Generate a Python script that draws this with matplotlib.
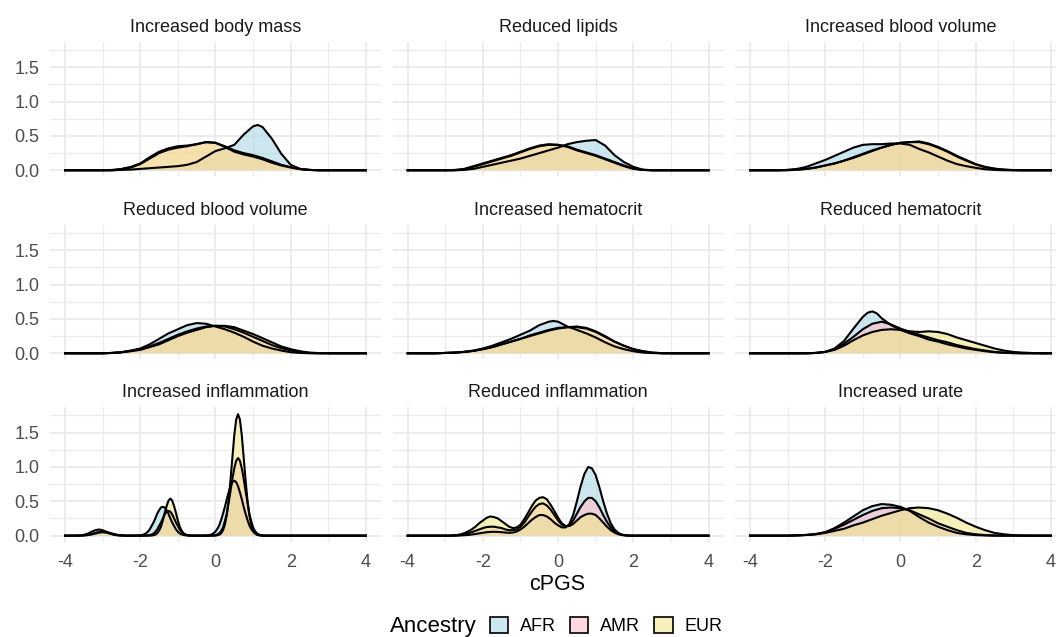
import matplotlib
matplotlib.use("Agg")
import matplotlib.pyplot as plt
from matplotlib.colors import to_rgba
from matplotlib.patches import Patch

plt.rcParams['font.family'] = ['Liberation Sans', 'DejaVu Sans']
plt.rcParams['axes.unicode_minus'] = False

# ---- data: density curves, as (cPGS, density) pairs ----
ancestries = ['AFR', 'AMR', 'EUR']
fill_colors = ['#ADD8E6', '#FFC0CB', '#F0E68C']
fill_alpha = 0.6

body_mass_afr = [(-4, 0), (-2.75, 0), (-2.5, 0.005), (-2.25, 0.01), (-2.0, 0.02), (-1.75, 0.03), (-1.5, 0.04),
                 (-1.25, 0.05), (-1.0, 0.06), (-0.75, 0.08), (-0.5, 0.12), (-0.25, 0.2), (0, 0.28), (0.25, 0.32),
                 (0.5, 0.37), (0.75, 0.52), (1.0, 0.64), (1.125, 0.66), (1.25, 0.63), (1.5, 0.46), (1.75, 0.24),
                 (2.0, 0.08), (2.25, 0.02), (2.5, 0.005), (2.75, 0), (4, 0)]
body_mass_amr = [(-4, 0), (-2.75, 0), (-2.5, 0.015), (-2.25, 0.04), (-2.0, 0.09), (-1.75, 0.17), (-1.5, 0.25),
                 (-1.25, 0.3), (-1.0, 0.33), (-0.75, 0.35), (-0.5, 0.38), (-0.25, 0.41), (0, 0.4), (0.25, 0.35),
                 (0.5, 0.29), (0.75, 0.25), (1.0, 0.22), (1.25, 0.18), (1.5, 0.13), (1.75, 0.08), (2.0, 0.045),
                 (2.25, 0.02), (2.5, 0.005), (2.75, 0), (4, 0)]
body_mass_eur = [(-4, 0), (-3.0, 0), (-2.75, 0.005), (-2.5, 0.02), (-2.25, 0.05), (-2.0, 0.1), (-1.75, 0.19),
                 (-1.5, 0.27), (-1.25, 0.32), (-1.0, 0.35), (-0.75, 0.36), (-0.5, 0.38), (-0.25, 0.41), (0, 0.4),
                 (0.25, 0.34), (0.5, 0.27), (0.75, 0.23), (1.0, 0.2), (1.25, 0.16), (1.5, 0.11), (1.75, 0.07),
                 (2.0, 0.04), (2.25, 0.015), (2.5, 0.005), (2.75, 0), (4, 0)]

lipids_afr = [(-4, 0), (-2.75, 0), (-2.5, 0.005), (-2.25, 0.02), (-2.0, 0.05), (-1.75, 0.08), (-1.5, 0.11),
              (-1.25, 0.14), (-1.0, 0.17), (-0.75, 0.21), (-0.5, 0.25), (-0.25, 0.29), (0, 0.33), (0.25, 0.38),
              (0.5, 0.41), (0.75, 0.43), (1.0, 0.44), (1.25, 0.36), (1.5, 0.22), (1.75, 0.12), (2.0, 0.05),
              (2.25, 0.01), (2.5, 0), (4, 0)]
lipids_amr = [(-4, 0), (-2.75, 0), (-2.5, 0.015), (-2.25, 0.05), (-2.0, 0.09), (-1.75, 0.13), (-1.5, 0.17),
              (-1.25, 0.21), (-1.0, 0.26), (-0.75, 0.31), (-0.5, 0.35), (-0.25, 0.37), (0, 0.37), (0.25, 0.35),
              (0.5, 0.3), (0.75, 0.26), (1.0, 0.22), (1.25, 0.17), (1.5, 0.12), (1.75, 0.07), (2.0, 0.025),
              (2.25, 0.005), (2.5, 0), (4, 0)]
lipids_eur = [(-4, 0), (-3.0, 0), (-2.75, 0.005), (-2.5, 0.02), (-2.25, 0.06), (-2.0, 0.1), (-1.75, 0.14),
              (-1.5, 0.18), (-1.25, 0.22), (-1.0, 0.27), (-0.75, 0.32), (-0.5, 0.36), (-0.25, 0.38), (0, 0.37),
              (0.25, 0.34), (0.5, 0.29), (0.75, 0.25), (1.0, 0.21), (1.25, 0.16), (1.5, 0.11), (1.75, 0.06),
              (2.0, 0.02), (2.25, 0.005), (2.5, 0), (4, 0)]

inc_blood_afr = [(-4, 0), (-3.25, 0), (-3.0, 0.005), (-2.75, 0.02), (-2.5, 0.05), (-2.25, 0.1), (-2.0, 0.15),
                 (-1.75, 0.21), (-1.5, 0.27), (-1.25, 0.33), (-1.0, 0.37), (-0.75, 0.38), (-0.5, 0.38),
                 (-0.25, 0.39), (0, 0.39), (0.25, 0.37), (0.5, 0.31), (0.75, 0.26), (1.0, 0.2), (1.25, 0.14),
                 (1.5, 0.09), (1.75, 0.06), (2.0, 0.035), (2.25, 0.015), (2.5, 0.005), (2.75, 0), (4, 0)]
inc_blood_amr = [(-4, 0), (-3.0, 0), (-2.75, 0.008), (-2.5, 0.02), (-2.25, 0.04), (-2.0, 0.07), (-1.75, 0.1),
                 (-1.5, 0.14), (-1.25, 0.19), (-1.0, 0.24), (-0.75, 0.29), (-0.5, 0.33), (-0.25, 0.37), (0, 0.4),
                 (0.25, 0.41), (0.5, 0.41), (0.75, 0.38), (1.0, 0.33), (1.25, 0.27), (1.5, 0.2), (1.75, 0.14),
                 (2.0, 0.085), (2.25, 0.045), (2.5, 0.02), (2.75, 0.008), (3.0, 0.002), (3.25, 0), (4, 0)]
inc_blood_eur = [(-4, 0), (-3.25, 0), (-3.0, 0.005), (-2.75, 0.01), (-2.5, 0.02), (-2.25, 0.04), (-2.0, 0.07),
                 (-1.75, 0.1), (-1.5, 0.14), (-1.25, 0.18), (-1.0, 0.23), (-0.75, 0.28), (-0.5, 0.33),
                 (-0.25, 0.37), (0, 0.4), (0.25, 0.41), (0.5, 0.42), (0.75, 0.39), (1.0, 0.34), (1.25, 0.28),
                 (1.5, 0.21), (1.75, 0.15), (2.0, 0.09), (2.25, 0.05), (2.5, 0.025), (2.75, 0.01), (3.0, 0.003),
                 (3.25, 0), (4, 0)]

red_blood_afr = [(-4, 0), (-3.0, 0), (-2.75, 0.005), (-2.5, 0.015), (-2.25, 0.04), (-2.0, 0.07), (-1.75, 0.13),
                 (-1.5, 0.21), (-1.25, 0.29), (-1.0, 0.35), (-0.75, 0.41), (-0.5, 0.44), (-0.25, 0.43), (0, 0.39),
                 (0.25, 0.35), (0.5, 0.3), (0.75, 0.24), (1.0, 0.17), (1.25, 0.11), (1.5, 0.07), (1.75, 0.04),
                 (2.0, 0.015), (2.25, 0.005), (2.5, 0), (4, 0)]
red_blood_amr = [(-4, 0), (-3.0, 0), (-2.75, 0.005), (-2.5, 0.015), (-2.25, 0.035), (-2.0, 0.06), (-1.75, 0.1),
                 (-1.5, 0.15), (-1.25, 0.21), (-1.0, 0.27), (-0.75, 0.32), (-0.5, 0.36), (-0.25, 0.39), (0, 0.4),
                 (0.25, 0.39), (0.5, 0.35), (0.75, 0.3), (1.0, 0.24), (1.25, 0.18), (1.5, 0.12), (1.75, 0.075),
                 (2.0, 0.04), (2.25, 0.015), (2.5, 0.005), (2.75, 0), (4, 0)]
red_blood_eur = [(-4, 0), (-3.0, 0), (-2.75, 0.005), (-2.5, 0.015), (-2.25, 0.03), (-2.0, 0.05), (-1.75, 0.09),
                 (-1.5, 0.13), (-1.25, 0.19), (-1.0, 0.25), (-0.75, 0.3), (-0.5, 0.34), (-0.25, 0.38), (0, 0.4),
                 (0.25, 0.4), (0.5, 0.38), (0.75, 0.33), (1.0, 0.28), (1.25, 0.22), (1.5, 0.16), (1.75, 0.1),
                 (2.0, 0.06), (2.25, 0.03), (2.5, 0.01), (2.75, 0.003), (3.0, 0), (4, 0)]

inc_hct_afr = [(-4, 0), (-3.25, 0), (-3.0, 0.005), (-2.75, 0.01), (-2.5, 0.02), (-2.25, 0.04), (-2.0, 0.07),
               (-1.75, 0.11), (-1.5, 0.16), (-1.25, 0.21), (-1.0, 0.27), (-0.75, 0.33), (-0.5, 0.41),
               (-0.25, 0.46), (-0.125, 0.47), (0, 0.46), (0.25, 0.39), (0.5, 0.34), (0.75, 0.29), (1.0, 0.23),
               (1.25, 0.16), (1.5, 0.1), (1.75, 0.06), (2.0, 0.03), (2.25, 0.01), (2.5, 0.003), (2.75, 0), (4, 0)]
inc_hct_amr = [(-4, 0), (-3.25, 0), (-3.0, 0.005), (-2.75, 0.01), (-2.5, 0.02), (-2.25, 0.035), (-2.0, 0.06),
               (-1.75, 0.09), (-1.5, 0.13), (-1.25, 0.17), (-1.0, 0.21), (-0.75, 0.26), (-0.5, 0.3),
               (-0.25, 0.34), (0, 0.37), (0.25, 0.38), (0.5, 0.38), (0.75, 0.36), (1.0, 0.31), (1.25, 0.24),
               (1.5, 0.17), (1.75, 0.11), (2.0, 0.06), (2.25, 0.03), (2.5, 0.01), (2.75, 0), (4, 0)]
inc_hct_eur = [(-4, 0), (-3.25, 0), (-3.0, 0.005), (-2.75, 0.01), (-2.5, 0.02), (-2.25, 0.035), (-2.0, 0.06),
               (-1.75, 0.09), (-1.5, 0.13), (-1.25, 0.17), (-1.0, 0.21), (-0.75, 0.25), (-0.5, 0.29),
               (-0.25, 0.33), (0, 0.36), (0.25, 0.38), (0.5, 0.39), (0.75, 0.37), (1.0, 0.32), (1.25, 0.25),
               (1.5, 0.17), (1.75, 0.11), (2.0, 0.06), (2.25, 0.03), (2.5, 0.01), (2.75, 0.003), (3.0, 0), (4, 0)]

red_hct_afr = [(-4, 0), (-2.5, 0), (-2.25, 0.005), (-2.0, 0.02), (-1.75, 0.07), (-1.5, 0.18), (-1.25, 0.36),
               (-1.0, 0.53), (-0.875, 0.59), (-0.75, 0.61), (-0.625, 0.58), (-0.5, 0.51), (-0.25, 0.41),
               (0, 0.34), (0.25, 0.29), (0.5, 0.25), (0.75, 0.2), (1.0, 0.17), (1.25, 0.13), (1.5, 0.1),
               (1.75, 0.07), (2.0, 0.05), (2.25, 0.03), (2.5, 0.015), (2.75, 0.007), (3.0, 0.002), (3.25, 0), (4, 0)]
red_hct_amr = [(-4, 0), (-2.5, 0), (-2.25, 0.005), (-2.0, 0.02), (-1.75, 0.06), (-1.5, 0.14), (-1.25, 0.24),
               (-1.0, 0.35), (-0.75, 0.43), (-0.5, 0.46), (-0.25, 0.42), (0, 0.36), (0.25, 0.31), (0.5, 0.27),
               (0.75, 0.23), (1.0, 0.19), (1.25, 0.16), (1.5, 0.12), (1.75, 0.09), (2.0, 0.06), (2.25, 0.04),
               (2.5, 0.02), (2.75, 0.01), (3.0, 0.004), (3.25, 0), (4, 0)]
red_hct_eur = [(-4, 0), (-2.5, 0), (-2.25, 0.005), (-2.0, 0.02), (-1.75, 0.05), (-1.5, 0.11), (-1.25, 0.19),
               (-1.0, 0.26), (-0.75, 0.31), (-0.5, 0.34), (-0.25, 0.35), (0, 0.34), (0.25, 0.32), (0.5, 0.31),
               (0.75, 0.32), (1.0, 0.31), (1.25, 0.28), (1.5, 0.23), (1.75, 0.19), (2.0, 0.15), (2.25, 0.11),
               (2.5, 0.07), (2.75, 0.04), (3.0, 0.02), (3.25, 0.01), (3.5, 0.004), (3.75, 0), (4, 0)]

inc_infl_afr = [(-4, 0), (-3.8, 0), (-3.7, 0.001), (-3.6, 0.004), (-3.5, 0.012), (-3.4, 0.029), (-3.3, 0.055),
                (-3.2, 0.079), (-3.1, 0.09), (-3.0, 0.079), (-2.9, 0.055), (-2.8, 0.029), (-2.7, 0.012),
                (-2.6, 0.004), (-2.5, 0.001), (-2.4, 0), (-2.1, 0.001), (-2.0, 0.005), (-1.95, 0.01),
                (-1.9, 0.018), (-1.85, 0.033), (-1.8, 0.057), (-1.75, 0.09), (-1.7, 0.14), (-1.65, 0.19),
                (-1.6, 0.25), (-1.55, 0.32), (-1.5, 0.37), (-1.45, 0.41), (-1.4, 0.42), (-1.35, 0.41),
                (-1.3, 0.37), (-1.25, 0.32), (-1.2, 0.25), (-1.15, 0.19), (-1.1, 0.14), (-1.05, 0.09),
                (-1.0, 0.057), (-0.95, 0.033), (-0.9, 0.018), (-0.85, 0.01), (-0.8, 0.005), (-0.75, 0.002),
                (-0.7, 0.001), (-0.4, 0), (-0.3, 0.001), (-0.25, 0.002), (-0.2, 0.005), (-0.15, 0.01),
                (-0.1, 0.019), (-0.05, 0.035), (0.0, 0.06), (0.05, 0.099), (0.1, 0.15), (0.15, 0.23), (0.2, 0.32),
                (0.25, 0.42), (0.3, 0.53), (0.35, 0.63), (0.4, 0.72), (0.45, 0.78), (0.5, 0.8), (0.55, 0.78),
                (0.6, 0.72), (0.65, 0.63), (0.7, 0.53), (0.75, 0.42), (0.8, 0.32), (0.85, 0.23), (0.9, 0.15),
                (0.95, 0.099), (1.0, 0.06), (1.05, 0.035), (1.1, 0.019), (1.15, 0.01), (1.2, 0.005),
                (1.25, 0.002), (1.3, 0.001), (1.4, 0), (4, 0)]
inc_infl_amr = [(-4, 0), (-3.7, 0), (-3.6, 0.002), (-3.5, 0.005), (-3.4, 0.012), (-3.3, 0.024), (-3.2, 0.04),
                (-3.1, 0.054), (-3.0, 0.06), (-2.9, 0.054), (-2.8, 0.04), (-2.7, 0.024), (-2.6, 0.012),
                (-2.5, 0.005), (-2.4, 0.002), (-2.3, 0), (-1.9, 0), (-1.85, 0.002), (-1.8, 0.004), (-1.75, 0.008),
                (-1.7, 0.016), (-1.65, 0.03), (-1.6, 0.054), (-1.55, 0.09), (-1.5, 0.14), (-1.45, 0.19),
                (-1.4, 0.25), (-1.35, 0.31), (-1.3, 0.35), (-1.25, 0.36), (-1.2, 0.35), (-1.15, 0.31),
                (-1.1, 0.25), (-1.05, 0.19), (-1.0, 0.14), (-0.95, 0.09), (-0.9, 0.054), (-0.85, 0.03),
                (-0.8, 0.016), (-0.75, 0.008), (-0.7, 0.004), (-0.65, 0.002), (-0.6, 0.001), (-0.2, 0),
                (-0.1, 0.001), (-0.05, 0.003), (0.0, 0.008), (0.05, 0.017), (0.1, 0.035), (0.15, 0.068),
                (0.2, 0.12), (0.25, 0.21), (0.3, 0.32), (0.35, 0.48), (0.4, 0.65), (0.45, 0.83), (0.5, 0.98),
                (0.55, 1.09), (0.6, 1.13), (0.65, 1.09), (0.7, 0.98), (0.75, 0.83), (0.8, 0.65), (0.85, 0.48),
                (0.9, 0.32), (0.95, 0.21), (1.0, 0.12), (1.05, 0.068), (1.1, 0.035), (1.15, 0.017),
                (1.2, 0.008), (1.25, 0.003), (1.3, 0.001), (1.4, 0), (4, 0)]
inc_infl_eur = [(-4, 0), (-3.6, 0), (-3.5, 0.002), (-3.4, 0.007), (-3.3, 0.016), (-3.2, 0.03), (-3.1, 0.044),
                (-3.0, 0.05), (-2.9, 0.044), (-2.8, 0.03), (-2.7, 0.016), (-2.6, 0.007), (-2.5, 0.002),
                (-2.4, 0), (-1.75, 0), (-1.7, 0.002), (-1.65, 0.006), (-1.6, 0.015), (-1.55, 0.035),
                (-1.5, 0.073), (-1.45, 0.13), (-1.4, 0.22), (-1.35, 0.33), (-1.3, 0.43), (-1.25, 0.51),
                (-1.2, 0.54), (-1.15, 0.51), (-1.1, 0.43), (-1.05, 0.33), (-1.0, 0.22), (-0.95, 0.13),
                (-0.9, 0.073), (-0.85, 0.035), (-0.8, 0.015), (-0.75, 0.006), (-0.7, 0.002), (-0.65, 0),
                (-0.05, 0), (0.0, 0.0015), (0.05, 0.005), (0.1, 0.013), (0.15, 0.034), (0.2, 0.078), (0.25, 0.16),
                (0.3, 0.3), (0.35, 0.52), (0.4, 0.81), (0.45, 1.14), (0.5, 1.46), (0.55, 1.69), (0.6, 1.77),
                (0.65, 1.69), (0.7, 1.46), (0.75, 1.14), (0.8, 0.81), (0.85, 0.52), (0.9, 0.3), (0.95, 0.16),
                (1.0, 0.078), (1.05, 0.034), (1.1, 0.013), (1.15, 0.005), (1.2, 0.0015), (1.3, 0), (4, 0)]

red_infl_afr = [(-4, 0), (-2.7, 0), (-2.6, 0.003), (-2.5, 0.006), (-2.4, 0.01), (-2.3, 0.016), (-2.2, 0.024),
                (-2.1, 0.033), (-2.0, 0.042), (-1.9, 0.05), (-1.8, 0.055), (-1.7, 0.056), (-1.6, 0.055),
                (-1.5, 0.05), (-1.4, 0.045), (-1.3, 0.042), (-1.2, 0.045), (-1.1, 0.06), (-1.0, 0.09),
                (-0.9, 0.13), (-0.8, 0.18), (-0.7, 0.23), (-0.6, 0.27), (-0.5, 0.3), (-0.4, 0.3), (-0.3, 0.28),
                (-0.2, 0.24), (-0.1, 0.19), (0.0, 0.15), (0.1, 0.12), (0.2, 0.12), (0.3, 0.17), (0.4, 0.3),
                (0.5, 0.5), (0.6, 0.72), (0.7, 0.9), (0.8, 1.0), (0.9, 0.98), (1.0, 0.88), (1.1, 0.7),
                (1.2, 0.5), (1.3, 0.32), (1.4, 0.18), (1.5, 0.09), (1.6, 0.04), (1.7, 0.015), (1.8, 0.005),
                (1.9, 0.001), (2.0, 0), (4, 0)]
red_infl_amr = [(-4, 0), (-2.9, 0), (-2.8, 0.002), (-2.7, 0.005), (-2.6, 0.01), (-2.5, 0.02), (-2.4, 0.035),
                (-2.3, 0.05), (-2.2, 0.07), (-2.1, 0.09), (-2.0, 0.11), (-1.9, 0.125), (-1.8, 0.13),
                (-1.7, 0.13), (-1.6, 0.12), (-1.5, 0.11), (-1.4, 0.09), (-1.3, 0.08), (-1.2, 0.08), (-1.1, 0.09),
                (-1.0, 0.13), (-0.9, 0.19), (-0.8, 0.27), (-0.7, 0.35), (-0.6, 0.42), (-0.5, 0.46), (-0.4, 0.47),
                (-0.3, 0.44), (-0.2, 0.38), (-0.1, 0.3), (0.0, 0.22), (0.1, 0.16), (0.2, 0.13), (0.3, 0.15),
                (0.4, 0.22), (0.5, 0.32), (0.6, 0.42), (0.7, 0.5), (0.8, 0.55), (0.9, 0.55), (1.0, 0.5),
                (1.1, 0.41), (1.2, 0.3), (1.3, 0.2), (1.4, 0.12), (1.5, 0.065), (1.6, 0.03), (1.7, 0.012),
                (1.8, 0.004), (1.9, 0.001), (2.0, 0), (4, 0)]
red_infl_eur = [(-4, 0), (-2.9, 0), (-2.8, 0.003), (-2.7, 0.008), (-2.6, 0.018), (-2.5, 0.035), (-2.4, 0.06),
                (-2.3, 0.09), (-2.2, 0.13), (-2.1, 0.18), (-2.0, 0.22), (-1.9, 0.26), (-1.8, 0.28), (-1.7, 0.27),
                (-1.6, 0.25), (-1.5, 0.21), (-1.4, 0.17), (-1.3, 0.13), (-1.2, 0.11), (-1.1, 0.12), (-1.0, 0.16),
                (-0.9, 0.24), (-0.8, 0.33), (-0.7, 0.43), (-0.6, 0.51), (-0.5, 0.55), (-0.4, 0.56), (-0.3, 0.53),
                (-0.2, 0.45), (-0.1, 0.36), (0.0, 0.26), (0.1, 0.18), (0.2, 0.14), (0.3, 0.14), (0.4, 0.17),
                (0.5, 0.22), (0.6, 0.27), (0.7, 0.3), (0.8, 0.32), (0.9, 0.32), (1.0, 0.3), (1.1, 0.25),
                (1.2, 0.19), (1.3, 0.13), (1.4, 0.08), (1.5, 0.045), (1.6, 0.02), (1.7, 0.008), (1.8, 0.003),
                (1.9, 0), (4, 0)]

urate_afr = [(-4, 0), (-3.0, 0), (-2.75, 0.004), (-2.5, 0.01), (-2.25, 0.025), (-2.0, 0.05), (-1.75, 0.11),
             (-1.5, 0.19), (-1.25, 0.28), (-1.0, 0.37), (-0.75, 0.43), (-0.5, 0.46), (-0.25, 0.45), (0, 0.42),
             (0.25, 0.36), (0.5, 0.27), (0.75, 0.19), (1.0, 0.13), (1.25, 0.08), (1.5, 0.04), (1.75, 0.02),
             (2.0, 0.008), (2.25, 0.003), (2.5, 0), (4, 0)]
urate_amr = [(-4, 0), (-3.0, 0), (-2.75, 0.004), (-2.5, 0.01), (-2.25, 0.02), (-2.0, 0.05), (-1.75, 0.1),
             (-1.5, 0.16), (-1.25, 0.23), (-1.0, 0.3), (-0.75, 0.36), (-0.5, 0.4), (-0.25, 0.41), (0, 0.4),
             (0.25, 0.37), (0.5, 0.31), (0.75, 0.25), (1.0, 0.18), (1.25, 0.13), (1.5, 0.08), (1.75, 0.04),
             (2.0, 0.02), (2.25, 0.008), (2.5, 0.003), (2.75, 0), (4, 0)]
urate_eur = [(-4, 0), (-3.0, 0), (-2.75, 0.005), (-2.5, 0.01), (-2.25, 0.02), (-2.0, 0.04), (-1.75, 0.07),
             (-1.5, 0.1), (-1.25, 0.15), (-1.0, 0.19), (-0.75, 0.24), (-0.5, 0.29), (-0.25, 0.33), (0, 0.37),
             (0.25, 0.4), (0.5, 0.41), (0.75, 0.4), (1.0, 0.37), (1.25, 0.32), (1.5, 0.26), (1.75, 0.19),
             (2.0, 0.13), (2.25, 0.08), (2.5, 0.04), (2.75, 0.02), (3.0, 0.007), (3.25, 0.002), (3.5, 0), (4, 0)]

panel_titles = ['Increased body mass', 'Reduced lipids', 'Increased blood volume',
                'Reduced blood volume', 'Increased hematocrit', 'Reduced hematocrit',
                'Increased inflammation', 'Reduced inflammation', 'Increased urate']
panel_curves = [
    (body_mass_afr, body_mass_amr, body_mass_eur),
    (lipids_afr, lipids_amr, lipids_eur),
    (inc_blood_afr, inc_blood_amr, inc_blood_eur),
    (red_blood_afr, red_blood_amr, red_blood_eur),
    (inc_hct_afr, inc_hct_amr, inc_hct_eur),
    (red_hct_afr, red_hct_amr, red_hct_eur),
    (inc_infl_afr, inc_infl_amr, inc_infl_eur),
    (red_infl_afr, red_infl_amr, red_infl_eur),
    (urate_afr, urate_amr, urate_eur),
]

x_ticks = [-4, -2, 0, 2, 4]
y_ticks = [0.0, 0.5, 1.0, 1.5]

# ---- figure ----
fig = plt.figure(figsize=(10.56, 6.37), dpi=100)

col_left = [0.04735, 0.3718, 0.6960]
row_bottom = [0.7231, 0.4358, 0.1495]
panel_w, panel_h = 0.3134, 0.2111
grid_col = '#EBEBEB'

for i, (title, curves) in enumerate(zip(panel_titles, panel_curves)):
    r, c = divmod(i, 3)
    ax = fig.add_axes([col_left[c], row_bottom[r], panel_w, panel_h])

    # AFR first, EUR last: later fills tint the outlines beneath them
    for pts, col in zip(curves, fill_colors):
        xs = [p[0] for p in pts]
        ys = [p[1] for p in pts]
        ax.fill_between(xs, 0, ys, facecolor=to_rgba(col, fill_alpha), edgecolor='none', lw=0)
        ax.plot(xs, ys, color='black', lw=1.5, solid_joinstyle='round')

    ax.set_xlim(-4.4, 4.4)
    ax.set_ylim(-0.089, 1.869)
    ax.set_xticks(x_ticks)
    ax.set_xticks([-3, -1, 1, 3], minor=True)
    ax.set_yticks(y_ticks)
    ax.set_yticks([0.25, 0.75, 1.25, 1.75], minor=True)
    ax.set_xticklabels([str(t) for t in x_ticks])
    ax.set_yticklabels(['%.1f' % t for t in y_ticks])
    ax.grid(which='major', color=grid_col, lw=1.3)
    ax.grid(which='minor', color=grid_col, lw=0.9)
    ax.set_axisbelow(True)
    for s in ax.spines.values():
        s.set_visible(False)
    ax.tick_params(which='both', length=0, labelsize=13, labelcolor='#4D4D4D')
    ax.tick_params(axis='y', pad=7.7)
    ax.tick_params(axis='x', pad=8.5)
    ax.tick_params(labelleft=(c == 0), labelbottom=(r == 2))
    ax.set_title(title, fontsize=13, color='#1A1A1A', pad=7.4)

fig.text(557 / 1056, 1 - 585 / 637, 'cPGS', ha='center', va='center', fontsize=15.5)

# legend, with the title on its left as in ggplot's bottom legend
fig.text(390 / 1056, 5 / 637, 'Ancestry', ha='left', va='baseline', fontsize=16)
handles = [Patch(facecolor=to_rgba(col, fill_alpha), edgecolor='black', lw=1.2) for col in fill_colors]
fig.legend(handles, ancestries, ncol=3, loc='center left', bbox_to_anchor=(490 / 1056, 1 - 626 / 637),
           frameon=False, fontsize=13, handlelength=1.0, handleheight=0.95, handletextpad=0.65,
           columnspacing=0.8, borderpad=0, borderaxespad=0)

plt.savefig('out.png', dpi=100)
plt.close()
